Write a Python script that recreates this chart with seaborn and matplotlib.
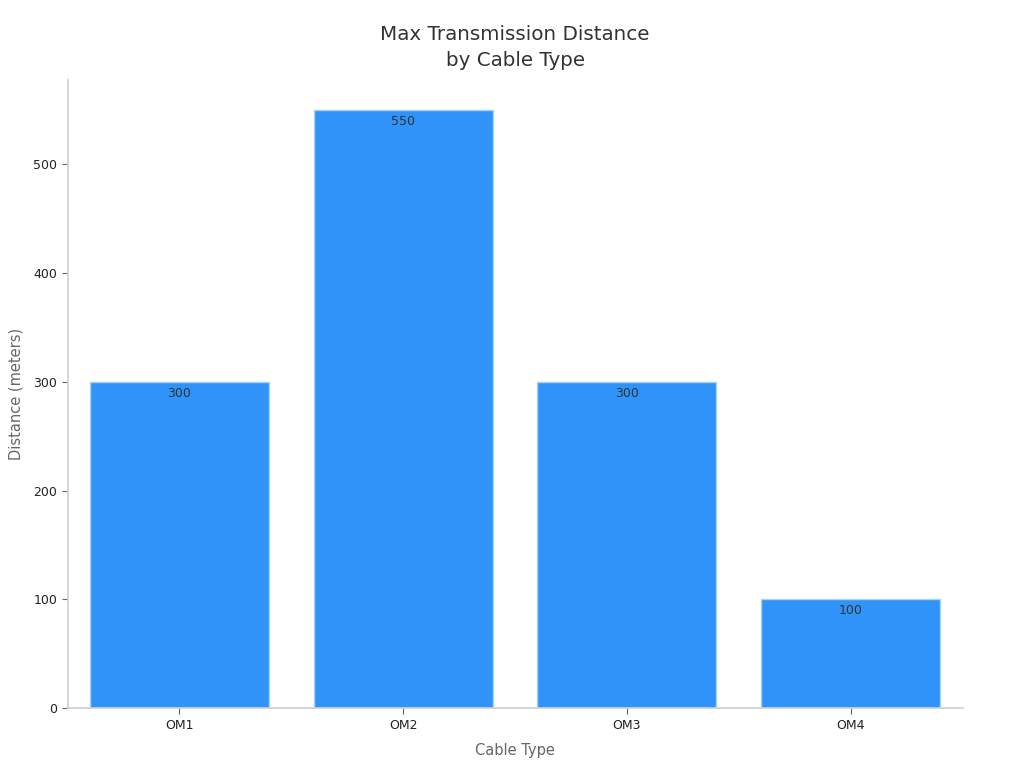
import matplotlib
matplotlib.use("Agg")
import matplotlib.pyplot as plt
import seaborn as sns
import pandas as pd

# Chart data
cable_types = ["OM1", "OM2", "OM3", "OM4"]
distances = [300, 550, 300, 100]

sns.set_theme(style="white")
plt.rcParams.update({
    "font.family": ["DejaVu Sans"],
    "axes.edgecolor": "#d0d0d0",
    "xtick.color": "#666666",
    "ytick.color": "#666666",
    "xtick.labelcolor": "#222222",
    "ytick.labelcolor": "#222222",
})

df = pd.DataFrame({"Cable Type": cable_types, "Distance": distances})

fig = plt.figure(figsize=(10.24, 7.68), dpi=100)
ax = fig.add_axes([0.066, 0.078, 0.874, 0.818])

sns.barplot(data=df, x="Cable Type", y="Distance", color="#2f93f8",
            saturation=1, width=0.8, edgecolor="#a9d3fb", linewidth=1, ax=ax)

ax.bar_label(ax.containers[0], labels=[str(d) for d in distances],
             padding=-13, fontsize=9, color="#333333")

ax.set_xlim(-0.5, 3.5)
ax.set_ylim(0, max(distances) * 1.05)
ax.set_yticks([0, 100, 200, 300, 400, 500])
ax.tick_params(axis="both", length=4, width=0.8, labelsize=9, bottom=True, left=True)
sns.despine(ax=ax)

ax.set_xlabel("Cable Type", fontsize=10.5, color="#666666", labelpad=8)
ax.set_ylabel("Distance (meters)", fontsize=10.5, color="#666666", labelpad=7)
ax.set_title("Max Transmission Distance\nby Cable Type", fontsize=14.3,
             color="#333333", pad=10, linespacing=1.45)

fig.savefig("out.png", dpi=100)
plt.close(fig)
